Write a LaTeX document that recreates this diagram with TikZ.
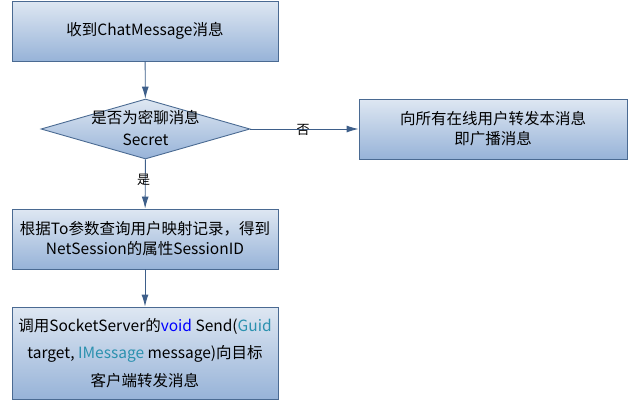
\documentclass[tikz,border=0pt]{standalone}
\usepackage{fontspec}
\setmainfont{Noto Sans CJK SC}
\usetikzlibrary{shapes.geometric,arrows.meta}
\definecolor{edgeblue}{HTML}{4A6A92}
\definecolor{arrowblue}{HTML}{3E5F8A}
\definecolor{topfill}{HTML}{DEE7F2}
\definecolor{botfill}{HTML}{97B3D8}
\definecolor{kwblue}{HTML}{0000FF}
\definecolor{typeteal}{HTML}{2B91AF}
\tikzset{
  procbox/.style={draw=edgeblue, line width=0.9pt, top color=topfill, bottom color=botfill,
    minimum width=266pt, inner sep=0pt, align=center,
    font=\fontsize{15.5}{20}\selectfont},
  decide/.style={draw=edgeblue, line width=0.9pt, top color=topfill, bottom color=botfill,
    shape=diamond, minimum width=209pt, minimum height=60pt, inner sep=0pt, aspect=3.5},
  txt/.style={align=center, inner sep=0pt, font=\fontsize{15.5}{22}\selectfont},
  flow/.style={draw=arrowblue, line width=0.9pt, -{Latex[length=12pt,width=7pt]}},
  lbl/.style={inner sep=0pt, font=\fontsize{13}{13}\selectfont}
}
\begin{document}
\begin{tikzpicture}[x=1pt,y=-1pt]
\useasboundingbox (0,0) rectangle (638,410);
\node[procbox, minimum height=60pt] (recv) at (145,31) {收到ChatMessage消息};
\node[decide] (secret) at (145.5,129) {};
\node[txt] (secrettxt) at (145.5,128) {是否为密聊消息\\Secret};
\node[procbox, minimum width=268pt, minimum height=60pt] (bcast) at (493,129) {向所有在线用户转发本消息\\即广播消息};
\node[procbox, minimum height=60pt] (lookup) at (145,239) {根据To参数查询用户映射记录，得到\\NetSession的属性SessionID};
\node[procbox, minimum height=92pt, font=\fontsize{15.5}{27.5}\selectfont] (send) at (145,353)
  {调用SocketServer的\textcolor{kwblue}{void} Send(\textcolor{typeteal}{Guid}\\
   target, \textcolor{typeteal}{IMessage} message)向目标\\客户端转发消息};
\draw[flow] (recv) -- (secret);
\draw[flow] (secret) -- (bcast);
\draw[flow] (secret) -- (lookup);
\draw[flow] (lookup) -- (send);
\node[lbl] (no) at (303,130) {否};
\node[lbl] (yes) at (143.5,180) {是};
\end{tikzpicture}
\end{document}
